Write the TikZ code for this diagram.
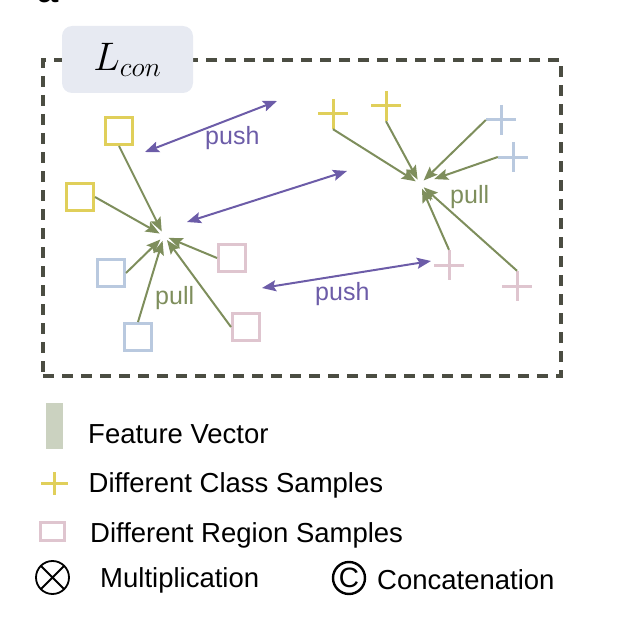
\documentclass[tikz,border=0pt]{standalone}
\usepackage{graphicx}
\usepackage{fontspec}
\setmainfont{Liberation Sans}
\usepackage{tikz}
\usetikzlibrary{arrows.meta,positioning}

\definecolor{clsyellow}{HTML}{E0CF5A}
\definecolor{regblue}{HTML}{B9C9DF}
\definecolor{regpink}{HTML}{DFC5CF}
\definecolor{pullgreen}{HTML}{7E8E5C}
\definecolor{pushpurple}{HTML}{6C5CA8}
\definecolor{framegray}{HTML}{4B4D42}
\definecolor{lossfill}{HTML}{E7EAF2}
\definecolor{featfill}{HTML}{CBD2C0}

\begin{document}
\begin{tikzpicture}[
    x=1pt, y=-1pt,
    sample/.style={rectangle, draw=#1, line width=3pt, minimum size=27pt, inner sep=0pt},
    plusmark/.style={rectangle, minimum size=30pt, inner sep=0pt,
        path picture={\draw[#1, line width=3pt] (path picture bounding box.north) -- (path picture bounding box.south)
            (path picture bounding box.west) -- (path picture bounding box.east);}},
    pullarrow/.style={-{Stealth[length=14pt, width=11pt, inset=2.5pt]}, line width=2pt, pullgreen, shorten >=5pt},
    pusharrow/.style={{Stealth[length=14pt, width=11pt, inset=2.5pt]}-{Stealth[length=14pt, width=11pt, inset=2.5pt]}, line width=2pt, pushpurple},
    arrowlabel/.style={anchor=base west, inner sep=0pt, font=\fontsize{25}{30}\selectfont},
    legendtext/.style={anchor=base west, inner sep=0pt, font=\fontsize{27.5}{32}\selectfont},
    framebox/.style={rectangle, draw=framegray, line width=3.4pt, dash pattern=on 11pt off 8pt, inner sep=0pt}
]
    \useasboundingbox (0,0) rectangle (630,626);

    % panel letter, cut off at the top
    \node[anchor=base west, inner sep=0pt, font=\fontsize{38}{40}\selectfont\bfseries] (panel) at (37,3) {a};

    % dashed frame and loss tag
    \node[framebox, minimum width=518pt, minimum height=316pt] (frame) at (302,218) {};
    \node[rectangle, rounded corners=10pt, fill=lossfill, minimum width=131pt, minimum height=67pt,
        font=\fontsize{24}{28}\selectfont] (loss) at (127.5,59.5) {\scalebox{1.6}{$L_{con}$}\hspace{8pt}};

    % region samples (left cluster)
    \node[sample=clsyellow] (ys1) at (119,131) {};
    \node[sample=clsyellow] (ys2) at (80,197) {};
    \node[sample=regblue] (bs1) at (111,273) {};
    \node[sample=regblue] (bs2) at (138,337) {};
    \node[sample=regpink] (ps1) at (232,258) {};
    \node[sample=regpink] (ps2) at (246,327) {};
    \coordinate (lhub) at (164,236);

    \draw[pullarrow] (ys1.south) -- (lhub);
    \draw[pullarrow] (ys2.east) -- (lhub);
    \draw[pullarrow] (bs1.east) -- (lhub);
    \draw[pullarrow] (bs2.north) -- (lhub);
    \draw[pullarrow] (ps1.west) -- (lhub);
    \draw[pullarrow] (ps2.west) -- (lhub);
    \node[arrowlabel, text=pullgreen] (lpull) at (155,304) {pull};

    % class samples (right cluster)
    \node[plusmark=clsyellow] (yc1) at (333,114) {};
    \node[plusmark=clsyellow] (yc2) at (386,106) {};
    \node[plusmark=regblue] (bc1) at (501,120) {};
    \node[plusmark=regblue] (bc2) at (513,157) {};
    \node[plusmark=regpink] (pc1) at (449,265) {};
    \node[plusmark=regpink] (pc2) at (517,286) {};
    \coordinate (rhub) at (420,184);

    \draw[pullarrow] (yc1.south) -- (rhub);
    \draw[pullarrow] (yc2.south) -- (rhub);
    \draw[pullarrow] (bc1.west) -- (rhub);
    \draw[pullarrow, shorten >=15pt] (bc2.west) -- (rhub);
    \draw[pullarrow] (pc1.north) -- (rhub);
    \draw[pullarrow] (pc2.north) -- (rhub);
    \node[arrowlabel, text=pullgreen] (rpull) at (450,203) {pull};

    % push arrows
    \coordinate (pushA1) at (145,152);
    \coordinate (pushA2) at (277,101);
    \coordinate (pushB1) at (187,222);
    \coordinate (pushB2) at (347,171);
    \coordinate (pushC1) at (262,288);
    \coordinate (pushC2) at (431,261);
    \draw[pusharrow] (pushA1) -- (pushA2);
    \draw[pusharrow] (pushB1) -- (pushB2);
    \draw[pusharrow] (pushC1) -- (pushC2);
    \node[arrowlabel, text=pushpurple] (tpush) at (205,144) {push};
    \node[arrowlabel, text=pushpurple] (bpush) at (315,300) {push};

    % legend
    \node[rectangle, fill=featfill, minimum width=17pt, minimum height=46pt, inner sep=0pt] (featbar) at (54.5,426) {};
    \node[legendtext] (feattext) at (88,443) {Feature Vector};
    \node[rectangle, minimum width=27pt, minimum height=23pt, inner sep=0pt,
        path picture={\draw[clsyellow, line width=2.5pt] (path picture bounding box.north) -- (path picture bounding box.south)
            (path picture bounding box.west) -- (path picture bounding box.east);}] (clsmark) at (54.5,483.5) {};
    \node[legendtext] (clstext) at (88.5,492) {Different Class Samples};
    \node[rectangle, draw=regpink, line width=2.5pt, minimum width=24pt, minimum height=18pt, inner sep=0pt] (regmark) at (52.5,531.5) {};
    \node[legendtext] (regtext) at (90,542) {Different Region Samples};
    \node[circle, draw, line width=1.8pt, minimum size=33pt, inner sep=0pt,
        path picture={\draw[line width=1.8pt] (path picture bounding box.north west) -- (path picture bounding box.south east)
            (path picture bounding box.north east) -- (path picture bounding box.south west);}] (mulmark) at (52.5,577.5) {};
    \node[legendtext] (multext) at (100,587) {Multiplication};
    \node[circle, draw, line width=2.4pt, minimum size=32pt, inner sep=0pt, font=\fontsize{28}{30}\selectfont] (catmark) at (349,578) {C};
    \node[legendtext] (cattext) at (377,589) {Concatenation};
\end{tikzpicture}
\end{document}
